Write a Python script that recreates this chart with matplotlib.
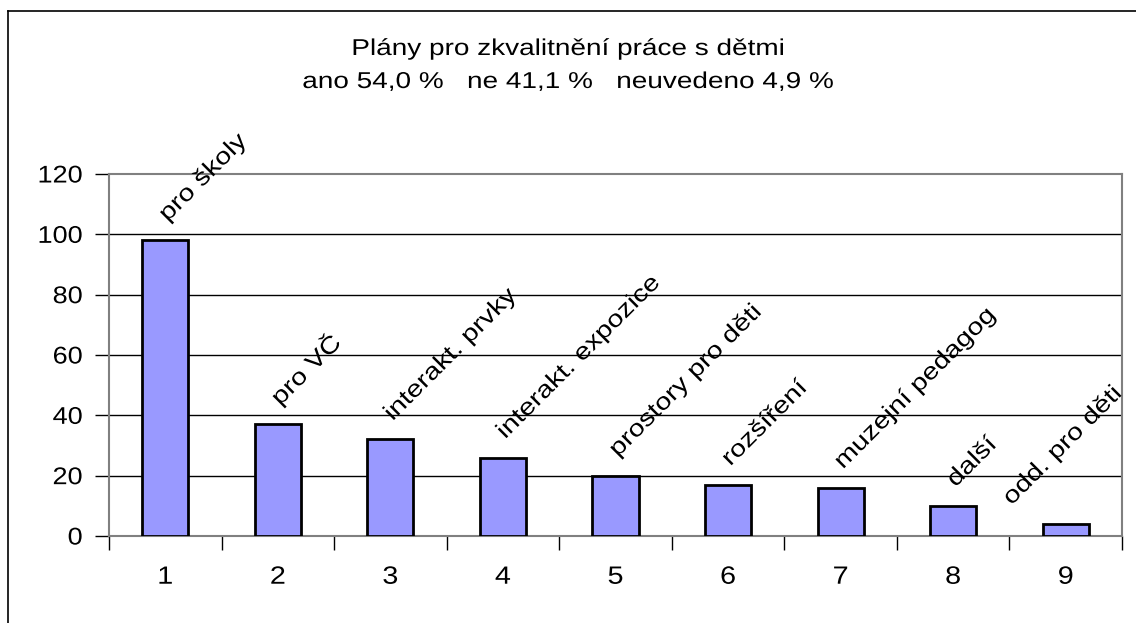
import numpy as np
import matplotlib.pyplot as plt
from matplotlib.lines import Line2D
from matplotlib.patheffects import AbstractPathEffect
from matplotlib.path import Path
from matplotlib.transforms import Affine2D

plt.rcParams['font.family'] = ['Liberation Sans', 'DejaVu Sans']

categories = ['1', '2', '3', '4', '5', '6', '7', '8', '9']
values = [98, 37, 32, 26, 20, 17, 16, 10, 4]
bar_labels = ['pro školy', 'pro VČ', 'interakt. prvky', 'interakt. expozice',
              'prostory pro děti', 'rozšíření', 'muzejní pedagog', 'další',
              'odd. pro děti']
title1 = 'Plány pro zkvalitnění práce s dětmi'
title2 = 'ano 54,0 %   ne 41,1 %   neuvedeno 4,9 %'


# the original chart was resized, so its text is a bit wider than normal
class Stretch(AbstractPathEffect):
    def __init__(self, sx, anchor='center'):
        super().__init__()
        self.sx = sx
        self.anchor = anchor

    def draw_path(self, renderer, gc, tpath, affine, rgbFace=None):
        v = tpath.vertices
        if tpath.codes is not None:
            v = v[tpath.codes != Path.CLOSEPOLY]
        if self.anchor == 'left':
            cx = 0
        elif self.anchor == 'right':
            cx = v[:, 0].max()
        else:
            cx = 0.5 * (v[:, 0].min() + v[:, 0].max())
        t = Affine2D().translate(-cx, 0).scale(self.sx, 1).translate(cx, 0) + affine
        renderer.draw_path(gc, tpath, t, rgbFace)


W, H = 1136, 623
fig = plt.figure(figsize=(W / 100, H / 100), dpi=100)

# plot area in pixel coords
left, right, top, bottom = 109, 1122, 174, 536
ax = fig.add_axes([left / W, 1 - bottom / H, (right - left) / W, (bottom - top) / H])
cat_px = (right - left) / len(values)

x = np.arange(len(values))
ax.bar(x, values, width=0.41, color='#9999FF', edgecolor='black', linewidth=2, zorder=3)

ax.set_xlim(-0.5, len(values) - 0.5)
ax.set_ylim(0, 120)
ax.set_yticks(np.arange(0, 121, 20))
ax.set_xticks(np.arange(-0.5, len(values), 1))
ax.set_xticklabels([])
ax.tick_params(axis='x', length=10, width=1, color='black', direction='out')
ax.tick_params(axis='y', length=10, width=1, color='black', direction='out', labelsize=17.4, pad=9)
for t in ax.get_yticklabels():
    t.set_path_effects([Stretch(1.12, 'right')])

for i, c in enumerate(categories):
    ax.text(i, -13.5, c, ha='center', va='center', fontsize=18,
            path_effects=[Stretch(1.15)])

for y in range(20, 120, 20):
    ax.axhline(y, color='black', linewidth=1, zorder=1)

for s in ax.spines.values():
    s.set_color('#808080')
    s.set_linewidth(1.5)

renderer = fig.canvas.get_renderer()
lab_sx = 1.2
for i, (v, lab) in enumerate(zip(values, bar_labels)):
    t = ax.text(i + 0.02, v + 6, lab, rotation=45, rotation_mode='anchor',
                ha='left', va='baseline', fontsize=17, zorder=4,
                path_effects=[Stretch(lab_sx, 'left')])
    # keep the label inside the chart like Excel does
    bb = t.get_window_extent(renderer)
    x1 = bb.x0 + (bb.x1 - bb.x0) * lab_sx
    over = x1 - (W - 6)
    if over > 0:
        t.set_x(i + 0.02 - over / cat_px)

fig.text(0.5, 1 - 55 / H, title1, ha='center', va='baseline',
         fontsize=16.5, path_effects=[Stretch(1.22)])
fig.text(0.5, 1 - 88 / H, title2, ha='center', va='baseline',
         fontsize=16.5, path_effects=[Stretch(1.22)])

# outer chart frame
fig.add_artist(Line2D([8 / W, 8 / W], [0, 1 - 11 / H], transform=fig.transFigure, color='black', linewidth=1.2))
fig.add_artist(Line2D([8 / W, 1], [1 - 11 / H, 1 - 11 / H], transform=fig.transFigure, color='black', linewidth=1.2))

fig.savefig('out.png', dpi=100)
